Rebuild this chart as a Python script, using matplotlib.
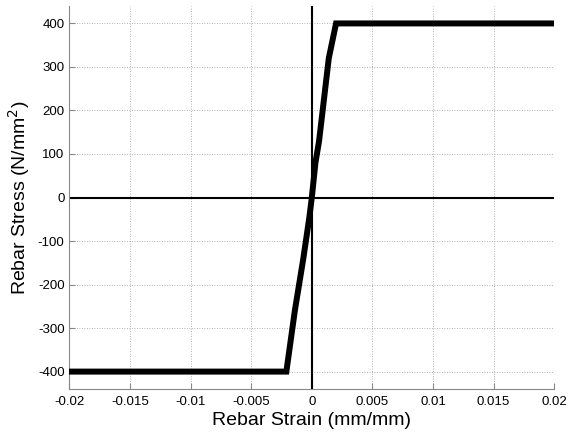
import matplotlib
matplotlib.use("Agg")
import matplotlib.pyplot as plt

plt.rcParams['font.family'] = ['Liberation Sans', 'DejaVu Sans']

# stress-strain curve of the rebar
strain = [-0.02, -0.0021, -0.0019, -0.0014, -0.0007, -0.0002, 0.0, 0.0003, 0.0006, 0.0014, 0.002, 0.02]
stress = [-400, -400, -360, -260, -140, -45, 0, 80, 130, 320, 400, 400]

xticks = [-0.02, -0.015, -0.01, -0.005, 0, 0.005, 0.01, 0.015, 0.02]
yticks = [-400, -300, -200, -100, 0, 100, 200, 300, 400]

fig = plt.figure(figsize=(5.69, 4.33), dpi=100)
ax = fig.add_axes([0.122, 0.1016, 0.852, 0.8845])

ax.axhline(0, color='black', lw=1.5, zorder=2)
ax.axvline(0, color='black', lw=1.5, zorder=2)
ax.plot(strain, stress, color='black', lw=4.3, solid_joinstyle='miter', zorder=3)

ax.set_xlim(-0.02, 0.02)
ax.set_ylim(-440, 440)
ax.set_xticks(xticks)
ax.set_xticklabels(['%g' % t for t in xticks])
ax.set_yticks(yticks)
ax.set_yticklabels(['%g' % t for t in yticks])

ax.grid(True, linestyle=(0, (1, 2)), color='#999999', lw=0.6)
ax.tick_params(direction='in', color='#888888', length=4, labelsize=9.5)
ax.tick_params(axis='x', pad=5)
for s in ['top', 'right']:
    ax.spines[s].set_visible(False)
for s in ['left', 'bottom']:
    ax.spines[s].set_color('#888888')

ax.set_xlabel('Rebar Strain (mm/mm)', fontsize=14, labelpad=3)
ax.set_ylabel('Rebar Stress (N/mm$^2$)', fontsize=14, labelpad=4)

fig.savefig('out.png', dpi=100)
